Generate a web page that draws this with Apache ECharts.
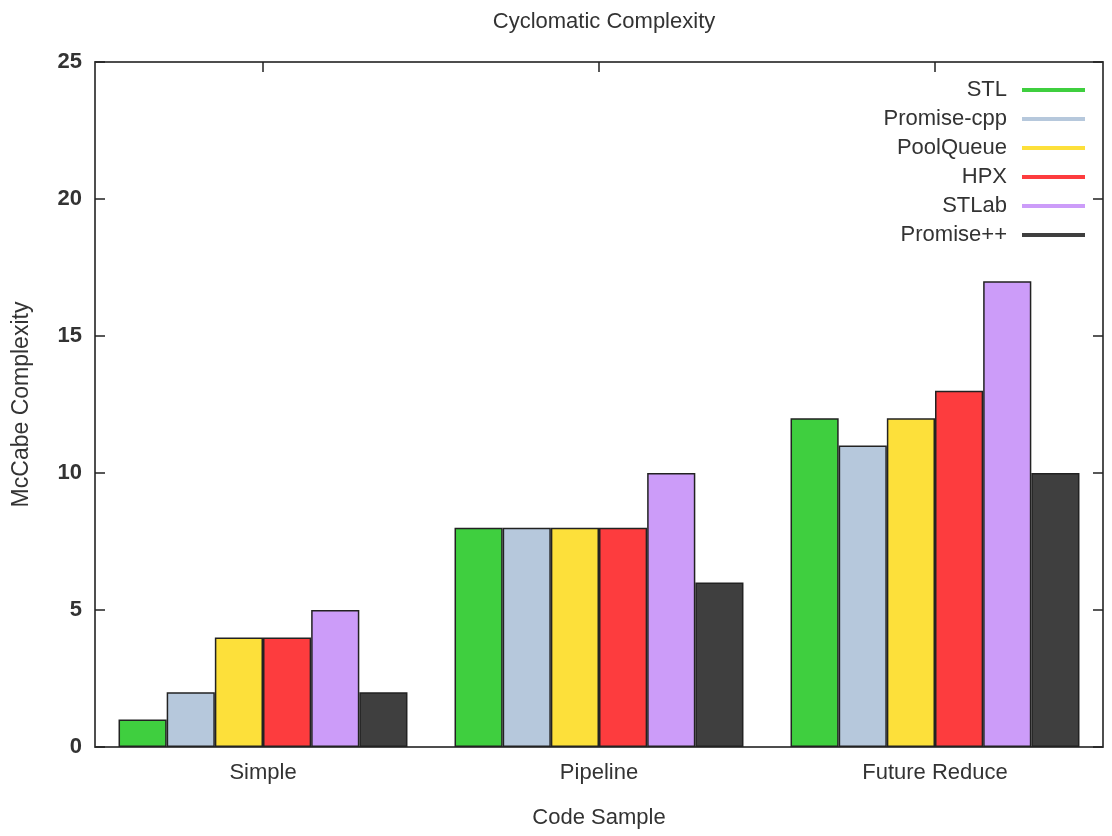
<!DOCTYPE html>
<html><head><meta charset="utf-8">
<script src="https://cdn.jsdelivr.net/npm/echarts@6/dist/echarts.min.js"></script>
<style>html,body{margin:0;padding:0;background:#fff}#c{width:1112px;height:836px}</style>
</head><body><div id="c"></div>
<script>
const categories = ['Simple', 'Pipeline', 'Future Reduce'];
const seriesNames = ['STL', 'Promise-cpp', 'PoolQueue', 'HPX', 'STLab', 'Promise++'];
const stl = [1, 8, 12];
const promiseCpp = [2, 8, 11];
const poolQueue = [4, 8, 12];
const hpx = [4, 8, 13];
const stlab = [5, 10, 17];
const promisePP = [2, 6, 10];
const colors = ['#3fcf3f', '#b6c8dc', '#fde03a', '#fd3c3e', '#cc9cf9', '#3f3f3f'];
const yTicks = [0, 5, 10, 15, 20, 25];

const values = [stl, promiseCpp, poolQueue, hpx, stlab, promisePP];
const font = 'Liberation Sans, Arial, sans-serif';
const chart = echarts.init(document.getElementById('c'));
chart.setOption({
  animation: false,
  title: { text: 'Cyclomatic Complexity', left: 599, textAlign: 'center', top: 6,
    textStyle: { fontFamily: font, fontSize: 22, fontWeight: 'normal', color: '#333' } },
  grid: { left: 95, right: 9, top: 62, bottom: 89, show: true, borderColor: '#444', borderWidth: 1.5 },
  legend: {
    orient: 'vertical', right: 22, top: 74, align: 'right',
    itemWidth: 63, itemHeight: 4, itemGap: 7, icon: 'rect',
    textStyle: { fontFamily: font, fontSize: 22, color: '#333', padding: [0, 10, 0, 0] },
    data: seriesNames.map((n, i) => ({ name: n, itemStyle: { color: colors[i], borderWidth: 0 } }))
  },
  xAxis: [{
    type: 'category', data: categories, position: 'bottom',
    name: 'Code Sample', nameLocation: 'middle', nameGap: 60,
    nameTextStyle: { fontFamily: font, fontSize: 22, color: '#333' },
    axisLine: { onZero: false, lineStyle: { color: '#444', width: 1.5 } },
    axisTick: { show: false },
    axisLabel: { fontFamily: font, fontSize: 22, color: '#333', margin: 15 }
  }, {
    type: 'category', data: categories, position: 'top',
    axisLine: { onZero: false, lineStyle: { color: '#444', width: 1.5 } },
    axisTick: { show: true, inside: true, alignWithLabel: true, length: 10, lineStyle: { color: '#222', width: 1.5 } },
    axisLabel: { show: false }
  }],
  yAxis: [{
    type: 'value', min: 0, max: 25, interval: 5,
    name: 'McCabe Complexity', nameLocation: 'middle', nameGap: 62, nameRotate: 90,
    nameTextStyle: { fontFamily: font, fontSize: 23, color: '#333' },
    axisLine: { show: true, onZero: false, lineStyle: { color: '#444', width: 1.5 } },
    axisTick: { show: true, inside: true, length: 10, lineStyle: { color: '#222', width: 1.5 } },
    splitLine: { show: false },
    axisLabel: { fontFamily: font, fontSize: 22, fontWeight: 'bold', color: '#333', margin: 13,
      formatter: v => yTicks.includes(v) ? String(v) : '' }
  }, {
    type: 'value', min: 0, max: 25, interval: 5, position: 'right',
    axisLine: { show: true, onZero: false, lineStyle: { color: '#444', width: 1.5 } },
    axisTick: { show: true, inside: true, length: 10, lineStyle: { color: '#222', width: 1.5 } },
    splitLine: { show: false }, axisLabel: { show: false }
  }],
  series: seriesNames.map((n, i) => ({
    name: n, type: 'bar', data: values[i], xAxisIndex: 0, yAxisIndex: 0,
    barGap: '0%', barCategoryGap: '14%',
    itemStyle: { color: colors[i], borderColor: '#222', borderWidth: 1.5 }
  }))
});
</script></body></html>
